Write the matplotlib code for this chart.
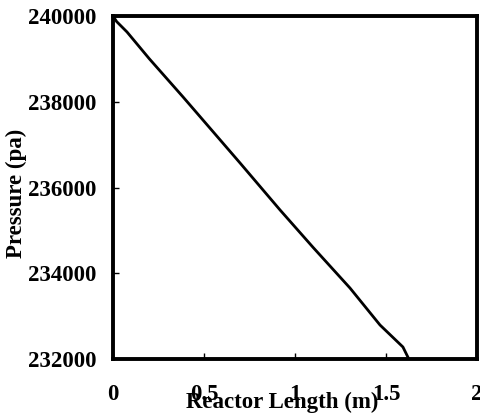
import matplotlib
matplotlib.use("Agg")
import matplotlib.pyplot as plt

length_m = [0.0, 0.02, 0.077, 0.20, 0.385, 0.55, 0.698, 0.918, 1.10, 1.302, 1.467, 1.593, 1.62]
pressure_pa = [240000, 239870, 239627, 239000, 238111, 237300, 236572, 235475, 234600, 233656, 232793, 232280, 232047]

xticks = [0, 0.5, 1, 1.5, 2]
xtick_labels = ["0", "0.5", "1", "1.5", "2"]
yticks = [232000, 234000, 236000, 238000, 240000]
ytick_labels = ["232000", "234000", "236000", "238000", "240000"]

plt.rcParams['font.family'] = ['Liberation Serif', 'DejaVu Serif']
plt.rcParams['font.weight'] = 'bold'

fig = plt.figure(figsize=(4.81, 4.17), dpi=100)
ax = fig.add_axes([113/481, 1 - 359/417, (477-113)/481, (359-16)/417])
ax.plot(length_m, pressure_pa, color='black', linewidth=2.0)
ax.set_xlim(0, 2)
ax.set_ylim(232000, 240000)
ax.set_xticks(xticks)
ax.set_xticklabels(xtick_labels, fontsize=16.5, fontweight='bold')
ax.set_yticks(yticks)
ax.set_yticklabels(ytick_labels, fontsize=16.5, fontweight='bold')
ax.tick_params(direction='in', length=4, width=1)
ax.tick_params(axis='x', pad=18)
ax.tick_params(axis='y', pad=12)
for s in ax.spines.values():
    s.set_linewidth(2.8)
ax.set_xlabel("Reactor Length (m)", fontsize=16.5, fontweight='bold')
ax.xaxis.set_label_coords((282-113)/364, -(402-359)/343)
ax.xaxis.label.set_va('center')
ax.set_ylabel("Pressure (pa)", fontsize=16.5, fontweight='bold')
ax.yaxis.set_label_coords((16-113)/364, (359-193)/343)
ax.yaxis.label.set_va('center')
fig.savefig("out.png", dpi=100)
